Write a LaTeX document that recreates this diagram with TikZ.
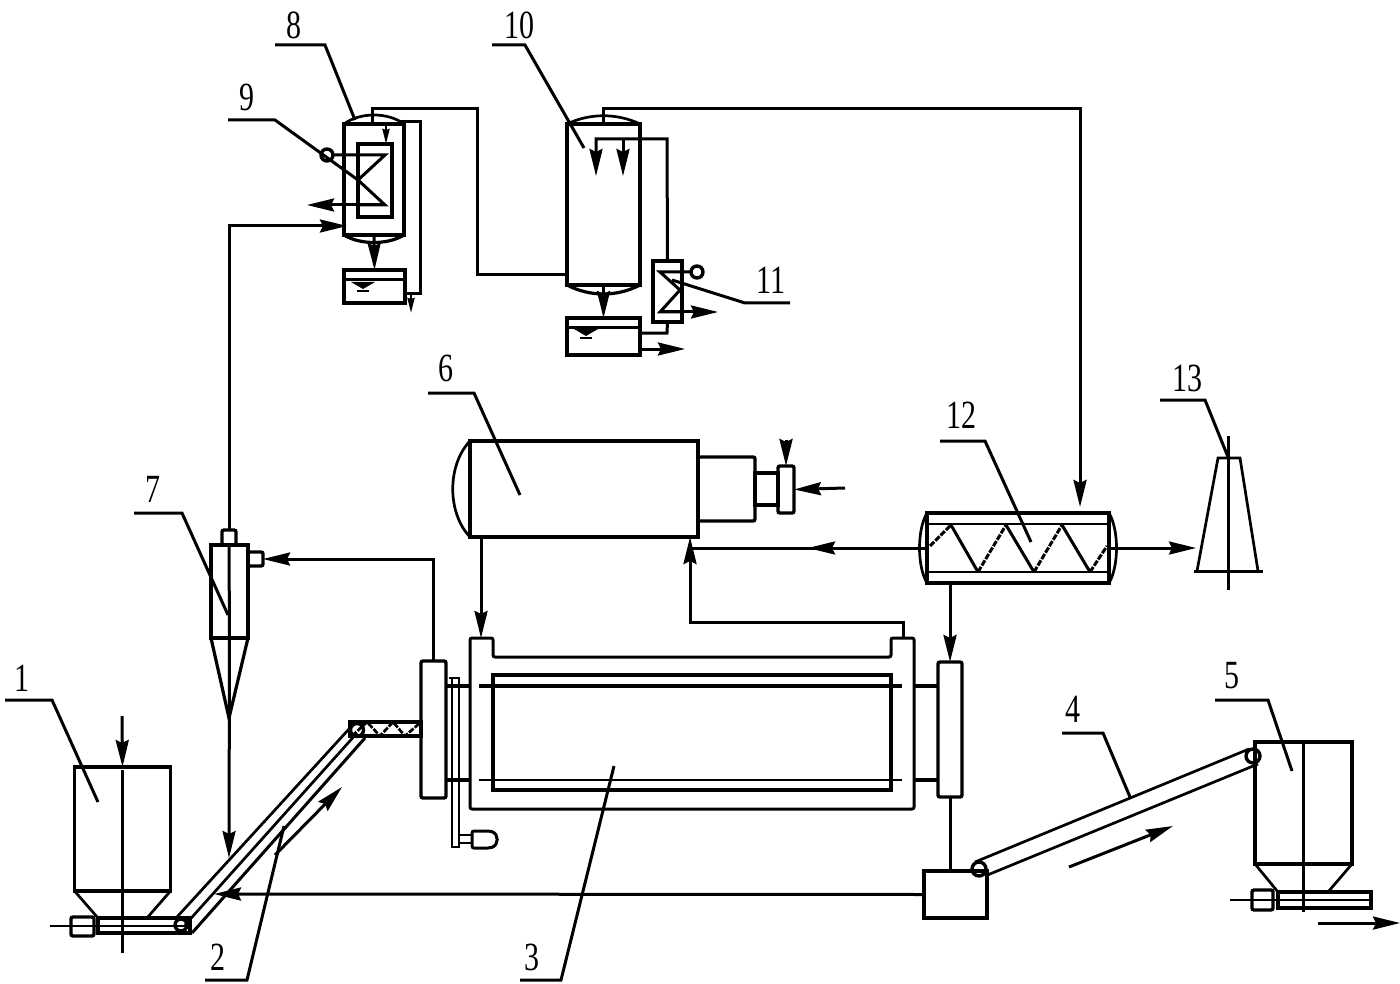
\documentclass[tikz,border=0pt]{standalone}
\usepackage{fontspec}
\setmainfont{Liberation Serif}
\usetikzlibrary{arrows.meta}

\begin{document}
\begin{tikzpicture}[x=1pt,y=-1pt,line join=miter]
\tikzset{
  pipe/.style={line width=3pt},
  flow/.style={line width=3pt,-{Stealth[length=27pt,width=13pt,inset=3pt]}},
  tinyflow/.style={line width=2.4pt,-{Stealth[length=15pt,width=7pt,inset=1pt]}},
  wall/.style={draw,line width=3.4pt,inner sep=0pt,outer sep=0pt},
  roundwall/.style={wall,rounded corners=2pt},
  thinline/.style={line width=2.7pt},
  number/.style={font=\fontsize{40}{40}\selectfont,xscale=.75,inner sep=0pt}}
\useasboundingbox (0,0) rectangle (1400,984);

% equipment
\node[wall,minimum width=96pt,minimum height=124pt] (bin1) at (122.5,829) {};
\node[wall,minimum width=92pt,minimum height=15pt] (feeder1) at (144,925.5) {};
\node[roundwall,minimum width=23pt,minimum height=19pt] (coupler1) at (82.5,926.5) {};
\node[wall,minimum width=97pt,minimum height=122pt] (bin5) at (1303.5,803) {};
\node[wall,minimum width=93pt,minimum height=16pt] (feeder5) at (1324.5,900) {};
\node[roundwall,minimum width=21pt,minimum height=20pt] (coupler5) at (1262.5,900) {};
\node[wall,minimum width=37pt,minimum height=93pt] (cyclone) at (229.5,591.5) {};
\node[roundwall,minimum width=14pt,minimum height=15pt] (cyclonetop) at (229,537.5) {};
\node[roundwall,minimum width=15pt,minimum height=14pt] (cycloneside) at (255.5,559) {};
\node[wall,minimum width=60pt,minimum height=111pt] (cond8) at (374,179.5) {};
\node[wall,minimum width=34pt,minimum height=73pt] (coil9) at (375,180.5) {};
\node[wall,minimum width=61pt,minimum height=33pt] (tank8) at (374.5,286.5) {};
\node[wall,minimum width=73pt,minimum height=161pt] (cond10) at (603.5,204.5) {};
\node[wall,minimum width=29pt,minimum height=61pt] (cool11) at (667.5,291.5) {};
\node[wall,minimum width=73pt,minimum height=37pt] (tank10) at (603.5,336.5) {};
\node[wall,minimum width=228pt,minimum height=96pt] (furnace) at (584,489) {};
\node[roundwall,minimum width=57pt,minimum height=64pt] (neck) at (726.5,489) {};
\node[wall,minimum width=23pt,minimum height=32pt] (throat) at (766.5,489) {};
\node[roundwall,minimum width=16pt,minimum height=47pt] (burner) at (786,489.5) {};
\node[wall,minimum width=182pt,minimum height=70pt] (mixer) at (1018,548) {};
\node[wall,minimum width=398pt,minimum height=115pt] (drum) at (692,732.5) {};
\node[roundwall,minimum width=25pt,minimum height=137pt] (sealL) at (433.5,729.5) {};
\node[roundwall,minimum width=24pt,minimum height=135pt] (sealR) at (950,729.5) {};
\node[wall,minimum width=63pt,minimum height=47pt] (pit) at (955.5,894.5) {};
\node[wall,minimum width=71pt,minimum height=14pt] (screw) at (385.5,729) {};
\node[wall,circle,minimum size=12pt] (wheelA) at (181,925) {};
\node[wall,circle,minimum size=13pt] (wheelB) at (357,730) {};
\node[wall,circle,minimum size=14pt] (wheelC) at (979,869) {};
\node[wall,circle,minimum size=14pt] (wheelD) at (1253,756) {};
\node[wall,circle,minimum size=12pt] (gauge9) at (327,155) {};
\node[wall,circle,minimum size=12pt] (gauge11) at (697,272) {};

% hoppers, cone, stack, domes
\draw[thinline] (bin1.south west) -- (98,918) (bin1.south east) -- (147,918);
\draw[thinline] (bin5.south west) -- (1278,892) (bin5.south east) -- (1328,892);
\draw[line width=3.2pt] (cyclone.south west) -- (229,718) -- (cyclone.south east);
\draw[thinline] (1197,571) -- (1218,458) -- (1240,458) -- (1258,571);
\draw[pipe] (1194,571) -- (1263,571);
\draw[pipe] (1228,436) -- (1228,590);
\draw[thinline] (344,124) .. controls (360,112) and (388,112) .. (404,124);
\draw[line width=3.2pt] (344,235) .. controls (360,245) and (388,245) .. (404,235);
\draw[thinline] (567,124) .. controls (590,113) and (617,113) .. (640,124);
\draw[line width=3.2pt] (567,285) .. controls (590,297) and (617,297) .. (640,285);
\draw[thinline] (470,441) .. controls (447,465) and (447,513) .. (470,537);
\draw[thinline] (927,513) .. controls (917,530) and (917,566) .. (927,583);
\draw[thinline] (1109,513) .. controls (1119,530) and (1119,566) .. (1109,583);

% center lines
\draw[pipe] (122,770) -- (122,953);
\draw[thinline] (50,926) -- (185,926);
\draw[pipe] (1303,742) -- (1303,912);
\draw[thinline] (1230,900) -- (1371,900);

% liquid levels
\draw[pipe] (344,280) -- (405,280);
\draw[pipe] (567,327) -- (640,327);
\foreach \cx/\cy in {363/282,586/329}{
  \fill (\cx-12,\cy) -- (\cx+12,\cy) -- (\cx,\cy+7) -- cycle;
  \draw[thinline] (\cx-6,\cy+9) -- (\cx+6,\cy+9);
}

% kiln body
\draw[line width=3pt,rounded corners=2pt] (470,809) -- (470,638) -- (493,638) -- (493,657) -- (891,657)
  -- (891,638) -- (914,638) -- (914,809) -- cycle;
\draw[line width=3.8pt] (479,686) -- (902,686);
\draw[thinline] (479,780) -- (902,780);
\draw[line width=3.4pt] (sealL.east |- 0,686) -- (470,686) (914,686) -- (sealR.west |- 0,686);
\draw[line width=3.4pt] (sealL.east |- 0,780) -- (470,780) (914,780) -- (sealR.west |- 0,780);

% gear and motor
\draw[thinline] (452,678) -- (452,847) -- (459,847) -- (459,678) -- (449,678);
\draw[thinline] (459,835) -- (472,835) (459,843) -- (472,843);
\draw[line width=3pt,rounded corners=2pt] (472,831) -- (490,831) .. controls (499,834) and (499,845) .. (490,848)
  -- (472,848) -- cycle;

% belts
\draw[thinline] (177,917) -- (349,729) (185,925) -- (357,733);
\draw[line width=3pt] (192,933) -- (365,738);
\draw[thinline] (975,862) -- (1249,749) (985,876) -- (1258,764);
\draw[line width=2.7pt,dash pattern=on 6pt off 1.5pt] (352,736) -- (367,722) -- (380,736) -- (393,722) -- (405,736) -- (421,722);

% mixer screw
\draw[thinline] (927,524) -- (1109,524) (927,572) -- (1109,572);
\draw[line width=3pt] (951,525) -- (978,572) (1006,525) -- (1034,572) (1062,525) -- (1090,572);
\draw[line width=3pt,dash pattern=on 6pt off 1.5pt] (930,546) -- (951,525) (978,572) -- (1006,525)
  (1034,572) -- (1062,525) (1090,572) -- (1107,546);

% coils
\draw[pipe] (gauge9.east) -- (385,155) -- (358,180) -- (385,205) -- (360,205);
\draw[flow] (385,205) -- (307,205);
\draw[pipe] (gauge11.west) -- (660,272) -- (680,290) -- (660,312) -- (680,312);
\draw[flow] (660,312) -- (718,312);

% pipes
\draw[flow] (122,716) -- (bin1.north);
\draw[flow] (cyclonetop.north) |- ([xshift=3pt,yshift=-46.5pt]cond8.west);
\draw[pipe] (229,545) -- (cyclone.south);
\draw[flow] (cyclone.south) -- (229,858);
\draw[flow] (sealL.north) |- (cycloneside.east);
\draw[flow] (pit.west) -- (214,894);
\draw[flow] (275,855) -- (342,787);
\draw[flow] (1069,867) -- (1173,826);
\draw[flow] (1318,923) -- (1400,923);
\draw[pipe] (372,123) -- (372,109) -- (477,109) -- (477,275) -- (cond10.west |- 0,275);
\draw[flow] (603,123) -- (603,109) -- (1080,109) -- (1080,507);
\draw[tinyflow] (386,122) -- (coil9.north -| 386,0);
\draw[pipe] (400,122) -- (420,122) -- (420,294) -- (tank8.east |- 0,294);
\draw[tinyflow] (411,294) -- (411,313);
\draw[flow] (cond8.south) -- (tank8.north);
\draw[flow] (cool11.north) -- (667,139) -- (596,139) -- (596,176);
\draw[flow] (623,139) -- (623,176);
\draw[flow] (cond10.south) -- (tank10.north);
\draw[pipe] (tank10.east |- 0,333) -- (667,333) -- (cool11.south);
\draw[flow] (tank10.east |- 0,349) -- (685,349);
\draw[flow] (786,440) -- (burner.north);
\draw[flow] (845,488) -- (burner.east);
\draw[flow] (481,537) -- (481,638);
\draw[flow] (903,638) -- (903,622) -- (690,622) -- (690,537);
\draw[pipe] (mixer.west) -- (690,548);
\draw[flow] (860,548) -- (808,548);
\draw[flow] (mixer.east) -- (1196,548);
\draw[flow] (950,583) -- (sealR.north);
\draw[pipe] (sealR.south) -- (pit.north -| sealR.south);

% numbers with leaders
\foreach \tag/\nx/\ny/\ax/\ay/\bx/\by/\cx/\cy in {
  1/22/678/5/700/52/700/98/802,
  2/218/957/205/980/247/980/284/826,
  3/532/957/520/980/561/980/614/766,
  4/1073/709/1062/733/1103/733/1130/797,
  5/1232/676/1215/700/1268/700/1292/771,
  6/446/368/428/393/474/393/520/495,
  7/153/489/134/513/182/513/228/615,
  8/294/25/275/45/325/45/355/120,
  9/247/97/228/120/275/120/358/180,
  10/519/25/492/45/525/45/584/148,
  11/771/280/790/303/745/303/672/280,
  12/961/415/940/441/985/441/1031/542,
  13/1187/378/1160/400/1205/400/1228/457}{
  \node[number] (num\tag) at (\nx,\ny) {\tag};
  \draw[pipe] (\ax,\ay) -- (\bx,\by) -- (\cx,\cy);
}
\end{tikzpicture}
\end{document}
